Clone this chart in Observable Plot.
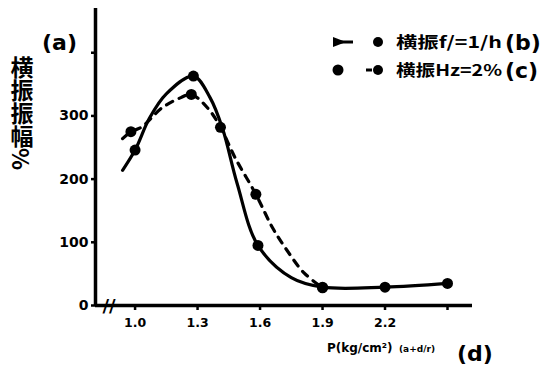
<!DOCTYPE html>
<html>
<head>
<meta charset="utf-8">
<script src="https://cdn.jsdelivr.net/npm/d3@7"></script>
<script src="https://cdn.jsdelivr.net/npm/@observablehq/plot@0.6"></script>
<style>
  html, body { margin: 0; padding: 0; background: #fff; }
  svg { font-family: "DejaVu Sans", sans-serif; }
</style>
</head>
<body>
<div id="chart"></div>
<script>
// ---- data ----
const xTicks = [1.0, 1.3, 1.6, 1.9, 2.2, 2.5];
const xTickLabels = ["1.0", "1.3", "1.6", "1.9", "2.2", ""];
const yTicks = [0, 100, 200, 300, 400];
const yTickLabels = ["0", "100", "200", "300", ""];

// series (b): solid curve
const bCurveX = [0.94, 1.0, 1.07, 1.15, 1.28, 1.36, 1.42, 1.49, 1.59, 1.75, 1.9, 2.2, 2.5];
const bCurveY = [214, 246, 297, 335, 363, 329, 280, 193, 95, 44, 29, 29, 35];
const bDotX = [1.0, 1.28, 1.59, 1.9, 2.2, 2.5];
const bDotY = [246, 363, 95, 29, 29, 35];

// series (c): dashed curve
const cCurveX = [0.94, 0.98, 1.03, 1.13, 1.22, 1.27, 1.35, 1.41, 1.48, 1.58, 1.66, 1.73, 1.81, 1.9];
const cCurveY = [264, 275, 282, 313, 329, 334, 312, 282, 234, 176, 123, 87, 52, 28];
const cDotX = [0.98, 1.27, 1.41, 1.58, 1.9];
const cDotY = [275, 334, 282, 176, 28];

const legendLabels = ["横振f/=1/h", "横振Hz=2%"];
const legendTags = ["(b)", "(c)"];
const yLabel = "横振振幅%";
const xLabel = "P(kg/cm²)";
const xLabelSmall = "(a+d/r)";

const xDomain = [0.81, 2.62];
const yDomain = [0, 470];
const breakX = [0.875];

const zip = (xs, ys) => xs.map((x, i) => ({x, y: ys[i]}));
const bCurve = zip(bCurveX, bCurveY), bDots = zip(bDotX, bDotY);
const cCurve = zip(cCurveX, cCurveY), cDots = zip(cDotX, cDotY);

const chart = Plot.plot({
  width: 557, height: 367,
  marginLeft: 95, marginRight: 85, marginTop: 8, marginBottom: 62,
  style: {fontFamily: "DejaVu Sans, sans-serif", color: "#000", background: "#fff"},
  x: {domain: xDomain},
  y: {domain: yDomain},
  marks: [
    Plot.axisX({ticks: xTicks, tickFormat: (d, i) => xTickLabels[i], tickSize: 5, tickPadding: 8,
      fontSize: 12.5, fontWeight: 900, strokeWidth: 2.5, label: null}),
    Plot.axisY({ticks: yTicks, tickFormat: (d, i) => yTickLabels[i], tickSize: 4, tickPadding: 3,
      fontSize: 14, fontWeight: 900, strokeWidth: 2.5, label: null}),
    Plot.ruleX([xDomain[0]], {y1: yDomain[0], y2: yDomain[1], strokeWidth: 3.5}),
    Plot.ruleY([0], {x1: xDomain[0], x2: xDomain[1], strokeWidth: 3.5}),
    Plot.text(breakX, {x: d => d, y: 0, text: () => "//", fontSize: 18, fontWeight: 900, dy: 1}),
    Plot.line(cCurve, {x: "x", y: "y", curve: "catmull-rom", strokeWidth: 3.2, strokeDasharray: "7,7"}),
    Plot.line(bCurve, {x: "x", y: "y", curve: "catmull-rom", strokeWidth: 3.2}),
    Plot.dot(cDots, {x: "x", y: "y", r: 5.5, fill: "#000"}),
    Plot.dot(bDots, {x: "x", y: "y", r: 5.5, fill: "#000"})
  ]
});
document.getElementById("chart").appendChild(chart);

// annotations (titles, legend)
const svg = d3.select(chart);
const g = svg.append("g").attr("fill", "#000").attr("font-weight", 900).attr("text-anchor", "start");
g.append("text").attr("x", 42).attr("y", 50).attr("font-size", 22).attr("font-weight", 700).text("(a)");
g.append("text").attr("x", 457).attr("y", 361).attr("font-size", 22).attr("font-weight", 700).text("(d)");
g.append("text").attr("x", 327).attr("y", 352).attr("font-size", 12).text(xLabel);
g.append("text").attr("x", 399).attr("y", 352).attr("font-size", 9).attr("font-weight", 700).text(xLabelSmall);
g.append("text").attr("x", 22).attr("y", 56).attr("font-size", 23).attr("font-weight", 700)
  .style("writing-mode", "vertical-rl").attr("font-family", "Noto Sans CJK SC").text(yLabel);

// legend
const rows = [42, 70];
// (b) solid marker
g.append("path").attr("d", `M333,${rows[0]-5} L346,${rows[0]} L333,${rows[0]+5} Z`);
g.append("line").attr("x1", 340).attr("x2", 353).attr("y1", rows[0]).attr("y2", rows[0]).attr("stroke", "#000").attr("stroke-width", 3);
g.append("circle").attr("cx", 378).attr("cy", rows[0]).attr("r", 5);
// (c) dashed marker
g.append("circle").attr("cx", 338).attr("cy", rows[1]).attr("r", 5.5);
g.append("line").attr("x1", 366).attr("x2", 372).attr("y1", rows[1]).attr("y2", rows[1]).attr("stroke", "#000").attr("stroke-width", 3);
g.append("circle").attr("cx", 378).attr("cy", rows[1]).attr("r", 5);
legendLabels.forEach((t, i) => {
  g.append("text").attr("x", 396).attr("y", rows[i] + 6).attr("font-size", 16)
    .attr("font-family", "Noto Sans CJK SC").attr("font-weight", 700)
    .attr("textLength", 106).attr("lengthAdjust", "spacingAndGlyphs").text(t);
  g.append("text").attr("x", 505).attr("y", rows[i] + 8).attr("font-size", 22).attr("font-weight", 700).text(legendTags[i]);
});
</script>
</body>
</html>
